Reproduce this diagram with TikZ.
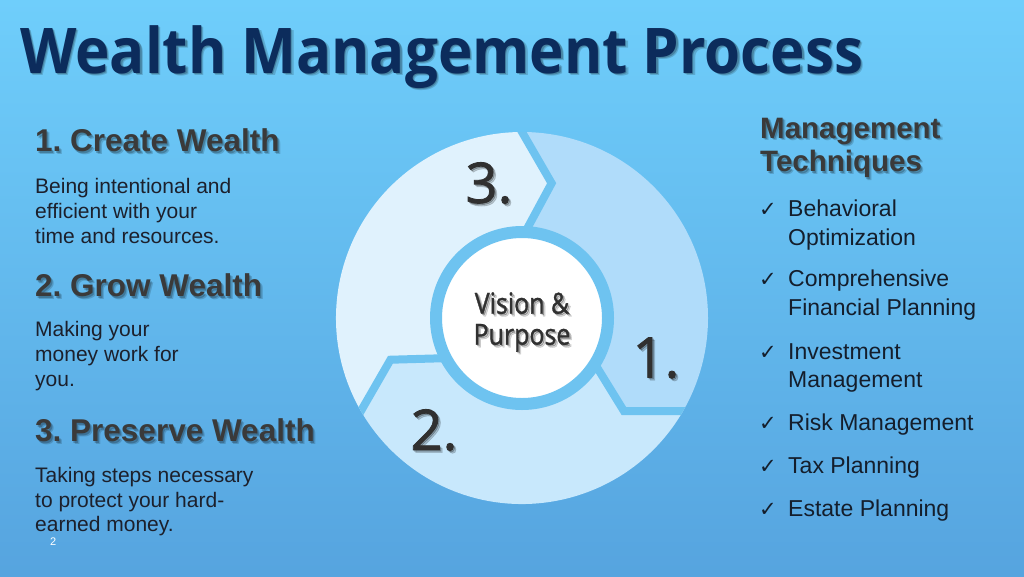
\documentclass[tikz,border=0pt]{standalone}
\usepackage{fontspec}
\setmainfont{Liberation Sans}
\newfontfamily\osanstitle[FakeStretch=0.925]{Open Sans}
\newfontfamily\osansvp[FakeStretch=0.86,FakeBold=1.1]{Open Sans}
\newfontfamily\osansnum[FakeBold=1.4]{Open Sans}
\newfontfamily\dejavu{DejaVu Sans}
\usetikzlibrary{calc}
\frenchspacing
\definecolor{bgtop}{RGB}{111,206,251}
\definecolor{bgbot}{RGB}{86,164,223}
\definecolor{titlec}{RGB}{12,44,92}
\definecolor{headc}{RGB}{58,58,58}
\definecolor{bodyc}{RGB}{28,32,44}
\definecolor{itemc}{RGB}{20,30,44}
\definecolor{numc}{RGB}{48,48,48}
\definecolor{segA}{RGB}{176,220,250}
\definecolor{segB}{RGB}{200,232,252}
\definecolor{segC}{RGB}{224,242,253}
\definecolor{gapc}{RGB}{110,195,240}
\newcommand\myshadow[4]{%
  \node[#3, text=black, text opacity=0.16] at ([shift={(2.6,2.6)}]#2) {#4};
  \node[#3, text=black, text opacity=0.22] at ([shift={(1.3,1.3)}]#2) {#4};
  \node[#3] (#1) at (#2) {#4};}
\begin{document}
\begin{tikzpicture}[x=1pt,y=-1pt,
  titlestyle/.style={anchor=base west, inner sep=0, text=titlec, font=\osanstitle\bfseries\fontsize{63}{70}\selectfont},
  headstyle/.style={anchor=base west, inner sep=0, text=headc, font=\bfseries\fontsize{31.5}{37}\selectfont},
  rheadstyle/.style={anchor=base west, inner sep=0, text=headc, font=\bfseries\fontsize{29.5}{35}\selectfont},
  bodystyle/.style={anchor=base west, inner sep=0, text=bodyc, font=\fontsize{21}{25}\selectfont},
  itemstyle/.style={anchor=base west, inner sep=0, text=itemc, font=\fontsize{23}{28}\selectfont},
  checkstyle/.style={anchor=base west, inner sep=0, text=itemc, font=\dejavu\fontsize{21}{24}\selectfont},
  numstyle/.style={anchor=center, inner sep=0, text=numc, font=\osansnum\fontsize{56}{60}\selectfont},
  gapline/.style={draw=gapc, line width=8pt, line join=miter},
]
\useasboundingbox (0,0) rectangle (1024,576);
\shade[top color=bgtop, bottom color=bgbot] (0,0) rectangle (1024,576);

% title
\myshadow{title}{20,73.3}{titlestyle}{Wealth Management Process}

% left column
\myshadow{h1}{35,151.7}{headstyle}{1. Create Wealth}
\node[bodystyle] (b1a) at (35,193.3) {Being intentional and};
\node[bodystyle] (b1b) at (35,218.3) {efficient with your};
\node[bodystyle] (b1c) at (35,243.3) {time and resources.};
\myshadow{h2}{35,296.7}{headstyle}{2. Grow Wealth}
\node[bodystyle] (b2a) at (35,336.7) {Making your};
\node[bodystyle] (b2b) at (35,361.7) {money work for};
\node[bodystyle] (b2c) at (35,386.7) {you.};
\myshadow{h3}{35,441.7}{headstyle}{3. Preserve Wealth}
\node[bodystyle] (b3a) at (35,482.7) {Taking steps necessary};
\node[bodystyle] (b3b) at (35,507.3) {to protect your hard-};
\node[bodystyle] (b3c) at (35,531.7) {earned money.};
\node[anchor=base west, inner sep=0, text=white, font=\fontsize{11}{13}\selectfont] (pg) at (50,545) {2};

% right column
\myshadow{rh1}{760,138.3}{rheadstyle}{Management}
\myshadow{rh2}{760,171.7}{rheadstyle}{Techniques}
\node[checkstyle] (c1) at (759,216.7) {✓};
\node[itemstyle] (i1a) at (788,216.7) {Behavioral};
\node[itemstyle] (i1b) at (788,245) {Optimization};
\node[checkstyle] (c2) at (759,286.7) {✓};
\node[itemstyle] (i2a) at (788,286.7) {Comprehensive};
\node[itemstyle] (i2b) at (788,315) {Financial Planning};
\node[checkstyle] (c3) at (759,359.3) {✓};
\node[itemstyle] (i3a) at (788,359.3) {Investment};
\node[itemstyle] (i3b) at (788,387.3) {Management};
\node[checkstyle] (c4) at (759,430) {✓};
\node[itemstyle] (i4) at (788,430) {Risk Management};
\node[checkstyle] (c5) at (759,473.3) {✓};
\node[itemstyle] (i5) at (788,473.3) {Tax Planning};
\node[checkstyle] (c6) at (759,516.7) {✓};
\node[itemstyle] (i6) at (788,516.7) {Estate Planning};

% circular diagram
\begin{scope}[shift={(522,318)}]
  \fill[segA] (90:186pt) arc[start angle=90, end angle=-30, radius=186pt]
     -- (-42.4:138pt) -- (-31.5:88pt) arc[start angle=-31.5, end angle=88.5, radius=88pt]
     -- (77.6:138pt) -- cycle;
  \fill[segB] (-30:186pt) arc[start angle=-30, end angle=-150, radius=186pt]
     -- (-162.4:138pt) -- (-151.5:88pt) arc[start angle=-151.5, end angle=-31.5, radius=88pt]
     -- (-42.4:138pt) -- cycle;
  \fill[segC] (210:186pt) arc[start angle=210, end angle=90, radius=186pt]
     -- (77.6:138pt) -- (88.5:88pt) arc[start angle=88.5, end angle=208.5, radius=88pt]
     -- (197.6:138pt) -- cycle;
  \begin{scope}
    \clip (0,0) circle[radius=186pt];
    \foreach \t in {90,-30,210} {
      \draw[gapline] ($(\t-12.4:138pt)!1.15!(\t:186pt)$) -- (\t-12.4:138pt) -- (\t-1.5:84pt);
    }
  \end{scope}
  \node[circle, fill=white, draw=gapc, line width=12pt, minimum size=172pt, inner sep=0] (vp) at (0,0) {};
\end{scope}
\myshadow{vis}{$(vp.center)+(0,4)$}{anchor=center, inner sep=0, align=center, text=numc, font=\osansvp\fontsize{29}{32}\selectfont}{Vision \&\\[-1pt] Purpose}
\myshadow{n3}{489,183}{numstyle}{3.}
\myshadow{n1}{656,358}{numstyle}{1.}
\myshadow{n2}{434,430}{numstyle}{2.}
\end{tikzpicture}
\end{document}
